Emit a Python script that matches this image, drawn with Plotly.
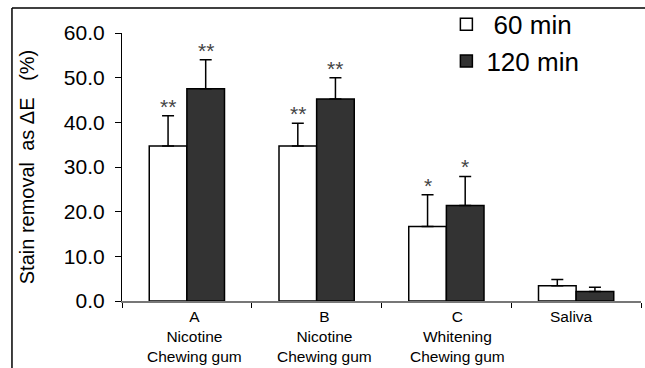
import plotly.graph_objects as go

categories = ["A", "B", "C", "Saliva"]
category_labels = ["A<br>Nicotine<br>Chewing gum", "B<br>Nicotine<br>Chewing gum",
                   "C<br>Whitening<br>Chewing gum", "Saliva"]
series_names = ["60 min", "120 min"]
values_60 = [34.7, 34.7, 16.7, 3.4]
errors_60 = [6.8, 5.1, 7.1, 1.4]
values_120 = [47.5, 45.2, 21.4, 2.1]
errors_120 = [6.5, 4.8, 6.5, 1.0]
stars_60 = ["**", "**", "*", ""]
stars_120 = ["**", "**", "*", ""]
y_ticks = [0, 10, 20, 30, 40, 50, 60]

FONT = "Liberation Sans, Arial, sans-serif"
label_dx = [8, 8, 11, -5]

fig = go.Figure()
fig.add_trace(go.Bar(
    name="\u00a0" + series_names[0], x=categories, y=values_60,
    marker=dict(color="white", line=dict(color="black", width=1.5)),
    error_y=dict(type="data", array=errors_60, symmetric=False, arrayminus=[0]*4,
                 color="black", thickness=1.5, width=6),
))
fig.add_trace(go.Bar(
    name=series_names[1], x=categories, y=values_120,
    marker=dict(color="#333333", line=dict(color="black", width=1.5)),
    error_y=dict(type="data", array=errors_120, symmetric=False, arrayminus=[0]*4,
                 color="black", thickness=1.5, width=6),
))

annotations = []
# significance stars
for i, c in enumerate(categories):
    for vals, errs, stars, off in ((values_60, errors_60, stars_60, -0.145),
                                   (values_120, errors_120, stars_120, 0.145)):
        if stars[i]:
            annotations.append(dict(
                x=i + off, y=vals[i] + errs[i], xref="x", yref="y",
                text=stars[i], showarrow=False, yanchor="bottom", yshift=-4,
                font=dict(family=FONT, size=21, color="#444444")))
# category labels
for i, lab in enumerate(category_labels):
    annotations.append(dict(
        x=i, y=0, xref="x", yref="paper", text=lab, showarrow=False,
        yanchor="top", yshift=-5, xshift=label_dx[i],
        font=dict(family=FONT, size=15.5, color="black")))

fig.update_layout(
    width=645, height=368,
    margin=dict(l=122, r=4, t=33, b=67, autoexpand=False),
    paper_bgcolor="white", plot_bgcolor="white",
    barmode="group", bargap=0.42, bargroupgap=0,
    font=dict(family=FONT, color="black"),
    showlegend=True,
    legend=dict(x=0.625, y=1.12, xanchor="left", yanchor="top",
                font=dict(family=FONT, size=26, color="black"),
                bgcolor="rgba(0,0,0,0)", tracegroupgap=0, itemwidth=30,
                maxheight=400),
    annotations=annotations,
    shapes=[
        dict(type="line", xref="paper", yref="paper", x0=-0.212, x1=-0.212,
             y0=-0.3, y1=1.093, line=dict(color="black", width=1.5)),
        dict(type="line", xref="paper", yref="paper", x0=-0.212, x1=1.1,
             y0=1.093, y1=1.093, line=dict(color="black", width=1.5)),
    ],
)
fig.update_xaxes(
    type="category", range=[-0.5, 3.5], showticklabels=False,
    tickson="boundaries", ticks="outside", ticklen=5, tickcolor="black",
    showline=True, linecolor="#777777", linewidth=1.5, showgrid=False, zeroline=False,
)
fig.update_yaxes(
    range=[0, 60], tickvals=y_ticks, tickformat=".1f",
    ticks="outside", ticklen=6, tickcolor="black", ticklabelstandoff=6,
    tickfont=dict(family=FONT, size=21, color="black"),
    showline=True, linecolor="black", linewidth=1.2, showgrid=False, zeroline=False,
    title=dict(text="Stain removal\u00a0\u00a0as \u0394E\u00a0\u00a0\u00a0(%)",
               font=dict(family=FONT, size=20, color="black"), standoff=23),
)
fig.write_html("out.html", config={"displayModeBar": False},
               post_script="document.body.style.margin='0px';document.body.style.overflow='hidden';")
